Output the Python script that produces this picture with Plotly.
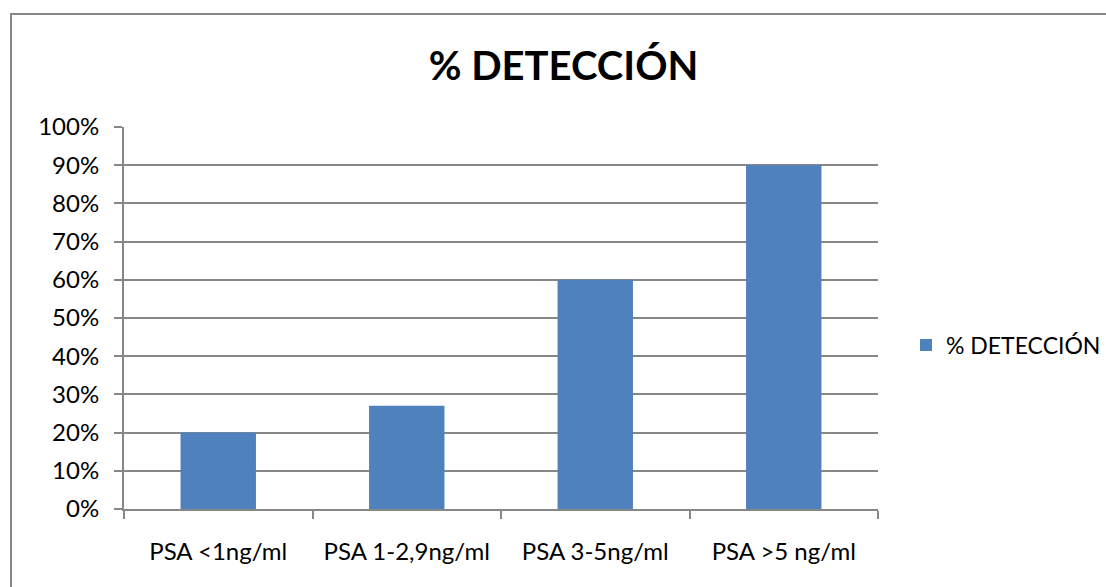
import plotly.graph_objects as go

categories = ["PSA <1ng/ml", "PSA 1-2,9ng/ml", "PSA 3-5ng/ml", "PSA >5 ng/ml"]
detection = [0.20, 0.27, 0.60, 0.90]
series_name = "% DETECCIÓN"
title_text = "% DETECCIÓN"

W, H = 1106, 587
L, R, T, B = 124, 878, 127, 509
pw, ph = R - L, B - T

def px_x(v):
    return (v - L) / pw

def px_y(v):
    return (B - v) / ph

FONT = "Lato, 'Open Sans', sans-serif"
GRID = "#878787"
FS = 24

fig = go.Figure()
fig.add_trace(go.Bar(
    x=categories, y=detection, name=series_name,
    marker=dict(color="#4F81BD", line=dict(width=0)),
    showlegend=True,
))

fig.update_layout(
    width=W, height=H,
    margin=dict(l=L, r=W - R, t=T, b=H - B, autoexpand=False),
    paper_bgcolor="white", plot_bgcolor="white",
    bargap=0.6,
    font=dict(family=FONT, size=FS, color="black"),
    title=dict(text="<b>" + title_text + "</b>", font=dict(family=FONT, size=40, color="black"),
               x=563.5 / W, xanchor="center", y=1 - 66 / H, yanchor="middle"),
    showlegend=True,
    legend=dict(x=px_x(906), y=px_y(345), xanchor="left", yanchor="middle",
                font=dict(family=FONT, size=FS - 1, color="black"),
                bgcolor="rgba(0,0,0,0)", itemwidth=30),
    xaxis=dict(showline=True, linecolor=GRID, linewidth=2, ticks="outside", ticklen=8,
               tickwidth=2, tickcolor=GRID, tickson="boundaries", showgrid=False,
               tickfont=dict(family=FONT, size=FS), ticklabelstandoff=20),
    yaxis=dict(range=[0, 1], dtick=0.1, tickformat=".0%", showline=True, linecolor=GRID,
               linewidth=2, ticks="outside", ticklen=8, tickwidth=2, tickcolor=GRID,
               showgrid=True, gridcolor=GRID, gridwidth=2, zeroline=False,
               tickfont=dict(family=FONT, size=FS), ticklabelstandoff=10),
    shapes=[dict(type="rect", xref="paper", yref="paper",
                 x0=px_x(11), x1=px_x(1130), y0=px_y(620), y1=px_y(14),
                 line=dict(color=GRID, width=2), fillcolor="rgba(0,0,0,0)", layer="below")],
)

fig.write_html("out.html", config={"displayModeBar": False},
               post_script="document.body.style.margin='0';document.body.style.padding='0';")
